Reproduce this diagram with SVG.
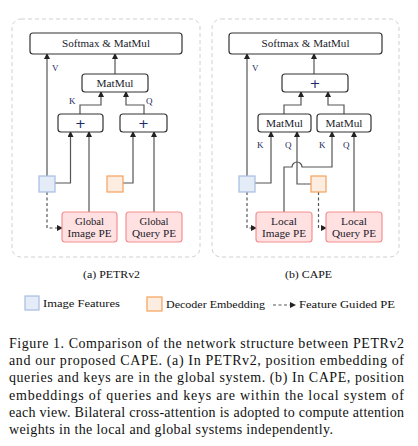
<svg xmlns="http://www.w3.org/2000/svg" width="418" height="446" viewBox="0 0 418 446">
<defs>
<marker id="ah" markerWidth="6" markerHeight="6" refX="5" refY="3" orient="auto" markerUnits="userSpaceOnUse">
<path d="M0,0 L6,3 L0,6 z" fill="#222"/>
</marker>
<style>
.panel{fill:none;stroke:#d0d0d0;stroke-width:1;stroke-dasharray:4 3}
.box{fill:#fff;stroke:#333;stroke-width:1.2}
.img{fill:#e4ecf8;stroke:#a9bde0;stroke-width:1.2}
.dec{fill:#fdece0;stroke:#f4a25a;stroke-width:1.2}
.pe{fill:#ffe1e1;stroke:#f59090;stroke-width:1.2}
.t{font-family:"Liberation Serif","DejaVu Serif",serif;font-size:9.5px;fill:#1a1a2a;text-anchor:middle}
.lbl{font-family:"Liberation Serif","DejaVu Serif",serif;font-size:9px;fill:#1a2a5a}
.plus{font-family:"DejaVu Sans",sans-serif;font-size:13px;fill:#1b2a6a;text-anchor:middle}
.cap{font-family:"Liberation Serif",serif;font-size:14px;fill:#111}
.sub{font-family:"Liberation Serif","DejaVu Serif",serif;font-size:10px;fill:#111}
.ln{fill:none;stroke:#555;stroke-width:1.2;marker-end:url(#ah)}
.dl{fill:none;stroke:#555;stroke-width:1.2;stroke-dasharray:3 2.5;marker-end:url(#ah)}
</style>
</defs>

<g id="panelA">
<rect class="panel" x="12" y="19" width="188" height="238" rx="9"/>
</g>
<g id="panelB">
<rect class="panel" x="212" y="19" width="187" height="238" rx="9"/>
</g>

<g id="connectors">
<!-- panel a -->
<path class="ln" d="M115,74 V54"/>
<path class="ln" d="M47,176 V54"/>
<path class="ln" d="M80,114 V105 H101 V92"/>
<path class="ln" d="M144,114 V105 H126 V92"/>
<path class="ln" d="M55,183 H70.5 V132"/>
<path class="ln" d="M89,212 V132"/>
<path class="ln" d="M123,183 H133 V132"/>
<path class="ln" d="M154,212 V132"/>
<path class="dl" d="M47,192 V228 H62"/>
<!-- panel b -->
<path class="ln" d="M314,74 V54"/>
<path class="ln" d="M247,176 V54"/>
<path class="ln" d="M284,114 V105 H301 V92"/>
<path class="ln" d="M344,114 V105 H328 V92"/>
<path class="ln" d="M255,183 H271 V132"/>
<path class="ln" d="M311,184 H297 V132"/>
<path class="ln" d="M284,212 V167 H292 A5,5 0 0 1 302,167 H332 V132"/>
<path class="ln" d="M354,212 V132"/>
<path class="dl" d="M247,192 V228 H256"/>
<path class="dl" d="M318.5,192 V228 H326"/>
<!-- legend -->
<path class="dl" d="M273,305 H295"/>
</g>

<g id="a_softmax"><rect class="box" x="30" y="33" width="152" height="21" rx="3"/><text class="t" x="106" y="47" textLength="88" lengthAdjust="spacingAndGlyphs">Softmax &amp; MatMul</text></g>
<g id="a_matmul"><rect class="box" x="82" y="74" width="66" height="18" rx="3"/><text class="t" x="115" y="86.5" textLength="37" lengthAdjust="spacingAndGlyphs">MatMul</text></g>
<g id="a_plusK"><rect class="box" x="58" y="114" width="45" height="18" rx="3"/><text class="plus" x="80.5" y="127.5">+</text></g>
<g id="a_plusQ"><rect class="box" x="120" y="114" width="47" height="18" rx="3"/><text class="plus" x="143.5" y="127.5">+</text></g>
<g id="a_img"><rect class="img" x="39" y="176" width="16" height="16"/></g>
<g id="a_dec"><rect class="dec" x="107" y="176" width="16" height="16"/></g>
<g id="a_gipe"><rect class="pe" x="62" y="212" width="55" height="30" rx="3"/><text class="t" x="89.5" y="224.5" textLength="29" lengthAdjust="spacingAndGlyphs">Global</text><text class="t" x="89.5" y="236.5" textLength="44" lengthAdjust="spacingAndGlyphs">Image PE</text></g>
<g id="a_gqpe"><rect class="pe" x="126" y="212" width="56" height="30" rx="3"/><text class="t" x="154" y="224.5" textLength="29" lengthAdjust="spacingAndGlyphs">Global</text><text class="t" x="154" y="236.5" textLength="44" lengthAdjust="spacingAndGlyphs">Query PE</text></g>
<g id="a_labels">
<text class="lbl" x="52" y="71">V</text>
<text class="lbl" x="69" y="104">K</text>
<text class="lbl" x="146" y="104">Q</text>
</g>

<g id="b_softmax"><rect class="box" x="229" y="33" width="153" height="21" rx="3"/><text class="t" x="305.5" y="47" textLength="88" lengthAdjust="spacingAndGlyphs">Softmax &amp; MatMul</text></g>
<g id="b_plus"><rect class="box" x="282" y="74" width="66" height="18" rx="3"/><text class="plus" x="315" y="87.5">+</text></g>
<g id="b_matmulL"><rect class="box" x="258" y="114" width="53" height="18" rx="3"/><text class="t" x="284.5" y="126.5" textLength="37" lengthAdjust="spacingAndGlyphs">MatMul</text></g>
<g id="b_matmulR"><rect class="box" x="317" y="114" width="54" height="18" rx="3"/><text class="t" x="344" y="126.5" textLength="37" lengthAdjust="spacingAndGlyphs">MatMul</text></g>
<g id="b_img"><rect class="img" x="239" y="176" width="16" height="16"/></g>
<g id="b_dec"><rect class="dec" x="311" y="176" width="15" height="16"/></g>
<g id="b_lipe"><rect class="pe" x="256" y="212" width="56" height="30" rx="3"/><text class="t" x="284" y="224.5" textLength="26" lengthAdjust="spacingAndGlyphs">Local</text><text class="t" x="284" y="236.5" textLength="44" lengthAdjust="spacingAndGlyphs">Image PE</text></g>
<g id="b_lqpe"><rect class="pe" x="326" y="212" width="56" height="30" rx="3"/><text class="t" x="354" y="224.5" textLength="26" lengthAdjust="spacingAndGlyphs">Local</text><text class="t" x="354" y="236.5" textLength="44" lengthAdjust="spacingAndGlyphs">Query PE</text></g>
<g id="b_labels">
<text class="lbl" x="252" y="71">V</text>
<text class="lbl" x="257" y="148">K</text>
<text class="lbl" x="285" y="148">Q</text>
<text class="lbl" x="319" y="148">K</text>
<text class="lbl" x="343" y="148">Q</text>
</g>

<g id="subcaptions">
<text class="sub" x="83" y="278" textLength="57" lengthAdjust="spacingAndGlyphs">(a) PETRv2</text>
<text class="sub" x="285" y="278" textLength="47" lengthAdjust="spacingAndGlyphs">(b) CAPE</text>
</g>

<g id="legend">
<rect class="img" x="25" y="296" width="14" height="14"/>
<text class="sub" x="43" y="307" textLength="77" lengthAdjust="spacingAndGlyphs">Image Features</text>
<rect class="dec" x="147" y="297" width="15" height="14"/>
<text class="sub" x="166" y="308" textLength="99" lengthAdjust="spacingAndGlyphs">Decoder Embedding</text>
<text class="sub" x="299" y="308" textLength="96" lengthAdjust="spacingAndGlyphs">Feature Guided PE</text>
</g>

<g id="caption">
<text class="cap" x="9" y="347.5" textLength="395" lengthAdjust="spacing">Figure 1. Comparison of the network structure between PETRv2</text>
<text class="cap" x="9" y="365" textLength="395" lengthAdjust="spacing">and our proposed CAPE. (a) In PETRv2, position embedding of</text>
<text class="cap" x="9" y="382.3" textLength="395" lengthAdjust="spacing">queries and keys are in the global system. (b) In CAPE, position</text>
<text class="cap" x="9" y="399.6" textLength="395" lengthAdjust="spacing">embeddings of queries and keys are within the local system of</text>
<text class="cap" x="9" y="416.9" textLength="395" lengthAdjust="spacing">each view. Bilateral cross-attention is adopted to compute attention</text>
<text class="cap" x="9" y="434.2" textLength="324" lengthAdjust="spacing">weights in the local and global systems independently.</text>
</g>
</svg>
